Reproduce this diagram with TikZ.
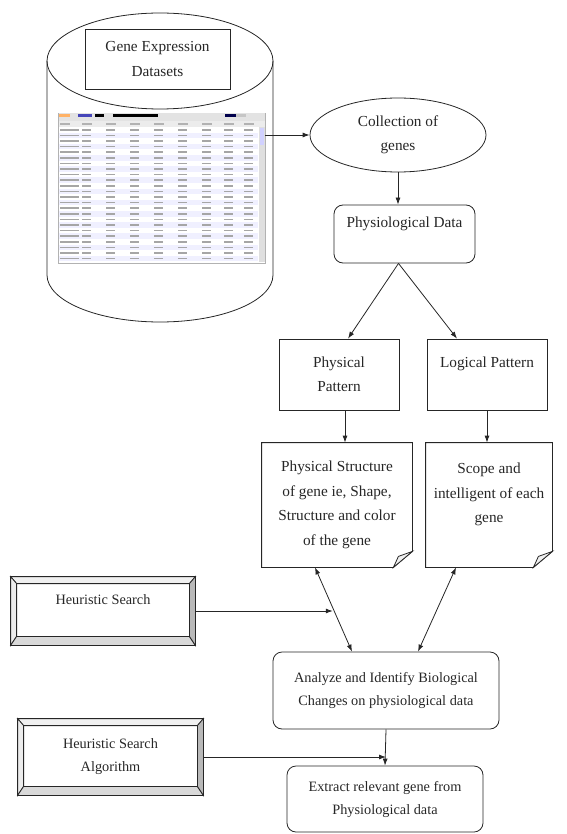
\documentclass[tikz,border=0pt]{standalone}
\usepackage{fontspec}
\setmainfont{Liberation Serif}
\usetikzlibrary{calc,shapes.geometric,arrows.meta}

% page with a folded corner
\newcommand\foldnote[1]{%
  \draw (#1.north west) -- (#1.north east) -- ($(#1.south east)+(0,-16)$)
    -- ($(#1.south east)+(-19,0)$) -- (#1.south west) -- cycle;
  \filldraw[fill=gray!12] ($(#1.south east)+(-19,0)$) -- ($(#1.south east)+(-14,-11)$)
    -- ($(#1.south east)+(0,-16)$) -- cycle;}

% raised box with bevelled edges
\newcommand\bevelbox[1]{%
  \coordinate (#1-a) at ($(#1.north west)+(6,7)$);
  \coordinate (#1-b) at ($(#1.north east)+(-6,7)$);
  \coordinate (#1-c) at ($(#1.south east)+(-6,-9)$);
  \coordinate (#1-d) at ($(#1.south west)+(6,-9)$);
  \filldraw[fill=gray!12] (#1.north west) -- (#1-a) -- (#1-b) -- (#1.north east) -- cycle;
  \filldraw[fill=gray!15] (#1.north west) -- (#1-a) -- (#1-d) -- (#1.south west) -- cycle;
  \filldraw[fill=gray!30] (#1.south west) -- (#1-d) -- (#1-c) -- (#1.south east) -- cycle;
  \filldraw[fill=gray!55] (#1.north east) -- (#1-b) -- (#1-c) -- (#1.south east) -- cycle;
  \draw[line width=1.3pt] (#1.north west) rectangle (#1.south east);}

\begin{document}
\begin{tikzpicture}[x=1pt,y=-1pt,line width=0.8pt,color=black!85,
    every node/.style={font=\fontsize{15.3}{24.5}\selectfont},
    lowtext/.style={font=\fontsize{14.3}{23}\selectfont},
    box/.style={draw,align=center,inner sep=0pt},
    rbox/.style={box,rounded corners=9pt},
    note/.style={align=center,inner sep=0pt},
    bevel/.style={align=center,inner sep=0pt,lowtext},
    arr/.style={-{Latex[length=7pt,width=5pt]}},
    darr/.style={{Latex[length=7pt,width=5pt]}-{Latex[length=7pt,width=5pt]}}]
    \useasboundingbox (0,0) rectangle (566,834);

    % database cylinder
    \draw (160,61) ellipse [x radius=113, y radius=48];
    \draw (47,61) -- (47,275) arc [start angle=180, end angle=0, x radius=113, y radius=47] -- (273,61);
    \node[box,minimum width=145pt,minimum height=60pt] (gedbox) at (157.5,59) {Gene Expression\\Datasets};

    % screenshot of the data table
    \node[draw=gray!60,line width=0.5pt,fill=white,minimum width=207pt,minimum height=150pt,inner sep=0pt] (table) at (161.5,188) {};
    \fill[gray!22] (58.5,113.5) rectangle (264.5,121);
    \fill[orange!60] (59,114.5) rectangle (70,117);
    \fill[blue!45!gray] (78,114.5) rectangle (92,117.5);
    \fill[black] (95,114.5) rectangle (104,117.5);
    \fill[black] (113,114.5) rectangle (158,117.5);
    \fill[blue!30!black] (225,114.5) rectangle (236,117.5);
    \fill[gray!45] (236,114.5) rectangle (246,117.5);
    \fill[gray!15] (58.5,121) rectangle (264.5,127);
    \foreach \r in {0,...,23}{
        \pgfmathsetmacro\yy{129.8+5.6*\r}
        \ifodd\r \fill[blue!6] (58.5,\yy-2.8) rectangle (258,\yy+2.8); \fi
        \draw[gray!70,line width=1.5pt] (60,\yy) -- ++(19,0);
        \foreach \c in {82,106,130,154,178,202,224,244}
            \draw[gray!70,line width=1.5pt] (\c,\yy) -- ++(9,0);
    }
    \foreach \c in {60,82,106,130,154,178,202,224,244}
        \draw[gray!60,line width=1.2pt] (\c,124) -- ++(10,0);
    \fill[gray!25] (259,127) rectangle (264.5,262);
    \fill[blue!18] (260,128) rectangle (263.5,145);

    % flow boxes
    \node[draw,ellipse,align=center,inner sep=0pt,minimum width=176pt,minimum height=74pt] (genes) at (398,135) {Collection of\\genes};
    \node[rbox,minimum width=141pt,minimum height=58pt] (pd) at (404.5,234) {Physiological Data\\\mbox{}};
    \node[box,minimum width=120pt,minimum height=71pt] (pp) at (339,374.5) {Physical\\Pattern};
    \node[box,minimum width=120pt,minimum height=71pt] (lp) at (487,374.5) {Logical Pattern\\\mbox{}};
    \node[note,minimum width=150pt,minimum height=124pt] (ps) at (337,505) {Physical Structure\\of gene ie, Shape,\\Structure and color\\of the gene};
    \node[note,minimum width=126pt,minimum height=124pt] (sc) at (489,505) {Scope and\\intelligent of each\\gene\\\mbox{}};
    \foldnote{ps}
    \foldnote{sc}
    \node[rbox,lowtext,minimum width=226pt,minimum height=77pt] (an) at (386,690.5) {Analyze and Identify Biological\\Changes on physiological data};
    \node[rbox,lowtext,minimum width=196pt,minimum height=66pt] (ex) at (385,799) {Extract relevant gene from\\Physiological data};

    \node[bevel,minimum width=184pt,minimum height=68pt] (hs) at (103,611) {};
    \bevelbox{hs}
    \node[lowtext,align=center] at (hs) {Heuristic Search\\\mbox{}};
    \node[bevel,minimum width=185pt,minimum height=76pt] (hsa) at (110.5,757) {};
    \bevelbox{hsa}
    \node[lowtext,align=center] at (hsa) {Heuristic Search\\Algorithm};

    % connectors
    \draw[arr] (genes.west -| table.east) -- (genes.west);
    \draw[arr] (genes.south) -- (genes.south |- pd.north);
    \draw[arr] ([xshift=-6]pd.south) -- ([xshift=9]pp.north);
    \draw[arr] ([xshift=-6]pd.south) -- ([xshift=-30]lp.north);
    \draw[arr] ([xshift=6]pp.south) -- ([xshift=6]pp.south |- ps.north);
    \draw[arr] (lp.south) -- (lp.south |- sc.north);
    \draw[darr] ([xshift=-34]an.north) -- ([xshift=-22]ps.south) coordinate[pos=0.52] (m1);
    \draw[darr] ([xshift=32]an.north) -- ([xshift=-33]sc.south);
    \draw[arr] (hs.east) -- (hs.east -| m1);
    \draw[arr] (an.south) -- (ex.north);
    \draw[arr] (hsa.east) -- (hsa.east -| an.south);
\end{tikzpicture}
\end{document}
